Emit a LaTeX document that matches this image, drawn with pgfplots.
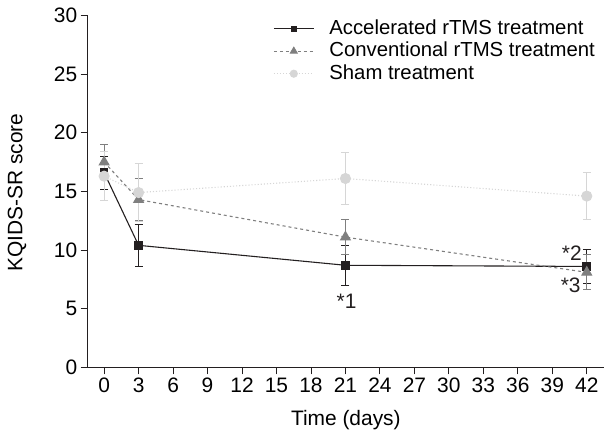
\documentclass[border=0pt]{standalone}
\usepackage{pgfplots}
\pgfplotsset{compat=1.18}
\usepackage{fontspec}
\setmainfont{Liberation Sans}

\definecolor{acc}{HTML}{231F20}
\definecolor{conv}{HTML}{7F7F7F}
\definecolor{sham}{HTML}{D6D6D6}

\begin{document}
\begin{tikzpicture}[font=\fontsize{21}{25}\selectfont]
\useasboundingbox (-87.7bp,-71.7bp) rectangle (518.3bp,367.3bp);
\begin{axis}[
  at={(0,0)}, anchor=south west,
  scale only axis,
  width=516.3bp, height=351.8bp,
  xmin=-1.43, xmax=43.5,
  ymin=0, ymax=30,
  axis lines*=left,
  axis line style={color=acc, line width=0.9pt},
  xtick={0,3,...,42},
  ytick={0,5,...,30},
  tick align=outside,
  major tick length=7bp,
  tick style={color=acc, line width=0.9pt},
  /pgf/number format/assume math mode=true,
  xlabel={Time (days)},
  ylabel={KQIDS-SR score},
  xlabel style={at={(axis description cs:0.5,-0.15)}, anchor=center},
  ylabel style={at={(axis description cs:-0.137,0.497)}, anchor=center},
  clip=false,
  legend style={at={(axis description cs:0.359,0.99)}, anchor=north west,
    draw=none, fill=none, inner sep=0bp, font=\fontsize{20.4}{24}\selectfont,
    nodes={inner sep=0bp, text height=15bp, text depth=4bp},
    column sep=15bp, row sep=3.5bp, cells={anchor=west}},
  legend image code/.code={
    \draw[mark repeat=2, mark phase=2, every mark/.append style={scale=0.7}]
      plot coordinates {(0bp,0bp) (20bp,0bp) (40bp,0bp)};},
]

\addplot[color=acc, line width=1.1pt, mark=square*, mark size=3.8bp,
  mark options={solid},
  error bars/.cd, y dir=both, y explicit,
  error bar style={color=acc, line width=1pt},
  error mark options={rotate=90, mark size=4bp, color=acc, line width=1pt}]
  coordinates {
    (0,16.6) +- (0,1.4)
    (3,10.4) +- (0,1.8)
    (21,8.7) +- (0,1.7)
    (42,8.6) +- (0,1.45)
  };
\addlegendentry{Accelerated rTMS treatment}

\addplot[color=conv, line width=1.1pt, dashed, mark=triangle*, mark size=5.5bp,
  mark options={solid},
  error bars/.cd, y dir=both, y explicit,
  error bar style={color=conv, line width=1pt, solid},
  error mark options={rotate=90, mark size=4bp, color=conv, line width=1pt, solid}]
  coordinates {
    (0,17.5) +- (0,1.5)
    (3,14.3) +- (0,1.8)
    (21,11.1) +- (0,1.5)
    (42,8.1) +- (0,1.5)
  };
\addlegendentry{Conventional rTMS treatment}

\addplot[color=sham, line width=1.1pt, dotted, mark=*, mark size=5bp,
  mark options={solid},
  error bars/.cd, y dir=both, y explicit,
  error bar style={color=sham, line width=1pt, solid},
  error mark options={rotate=90, mark size=4bp, color=sham, line width=1pt, solid}]
  coordinates {
    (0,16.3) +- (0,2.1)
    (3,14.9) +- (0,2.5)
    (21,16.1) +- (0,2.2)
    (42,14.6) +- (0,2.0)
  };
\addlegendentry{Sham treatment}

\node[color=acc] at (axis cs:21.1,5.6) {*1};
\node[color=acc] at (axis cs:40.7,9.73) {*2};
\node[color=acc] at (axis cs:40.6,7.0) {*3};
\end{axis}
\end{tikzpicture}
\end{document}
